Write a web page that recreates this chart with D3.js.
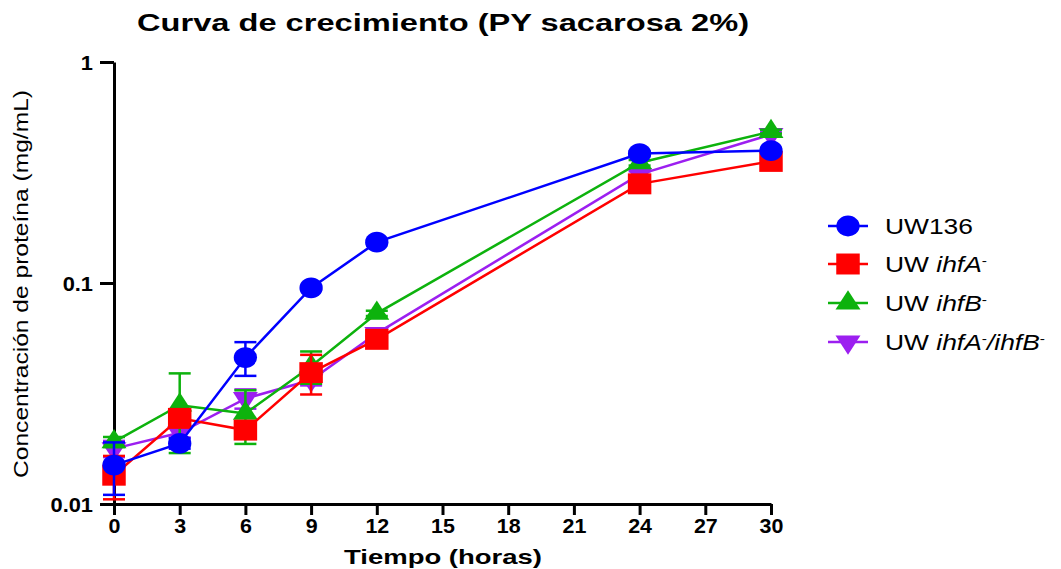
<!DOCTYPE html>
<html>
<head>
<meta charset="utf-8">
<script src="https://cdn.jsdelivr.net/npm/d3@7"></script>
<style>
  body { margin: 0; background: #fff; }
  text { font-family: "Liberation Sans", Arial, sans-serif; }
</style>
</head>
<body>
<div id="chart"></div>
<script>
// data
var times = [0, 3, 6, 9, 12, 24, 30];

var uw136     = [0.0150, 0.0188, 0.046, 0.095, 0.153, 0.385, 0.397];
var uw136Err  = [0.004, 0.001, 0.008, 0.002, 0.003, 0.01, 0.01];
var ihfA      = [0.0135, 0.0244, 0.0216, 0.0393, 0.0556, 0.281, 0.355];
var ihfAErr   = [0.003, 0.002, 0.001, 0.008, 0.002, 0.01, 0.01];
var ihfB      = [0.0191, 0.028, 0.0257, 0.042, 0.0729, 0.35, 0.484];
var ihfBErr   = [0.001, 0.011, 0.007, 0.007, 0.002, 0.01, 0.01];
var ihfAB     = [0.0178, 0.021, 0.030, 0.0364, 0.0592, 0.31, 0.47];
var ihfABErr  = [0.0015, 0.001, 0.003, 0.002, 0.002, 0.01, 0.01];

var xTicks = [0, 3, 6, 9, 12, 15, 18, 21, 24, 27, 30];
var yTicks = [0.01, 0.1, 1];

var width = 1061, height = 569;

var xScale = d3.scaleLinear().domain([0, 30]).range([114, 771]);
var yScale = d3.scaleLog().domain([0.01, 1]).range([504, 62]);

var svg = d3.select("#chart").append("svg")
    .attr("width", width)
    .attr("height", height);

// the source picture is a bit wider than normal Arial, so stretch text a little
function stretch(sel, f) {
    sel.each(function() {
        var len = this.getComputedTextLength();
        d3.select(this).attr("textLength", len * f).attr("lengthAdjust", "spacingAndGlyphs");
    });
}

// title
svg.append("text")
    .attr("x", 443).attr("y", 31)
    .attr("text-anchor", "middle")
    .attr("font-size", 23).attr("font-weight", "bold")
    .attr("textLength", 612).attr("lengthAdjust", "spacingAndGlyphs")
    .text("Curva de crecimiento (PY sacarosa 2%)");

// axes
var yAxis = svg.append("g")
    .attr("transform", "translate(114,0)")
    .call(d3.axisLeft(yScale).tickValues(yTicks).tickSize(14).tickSizeOuter(0)
        .tickFormat(function(d) { return d === 1 ? "1" : d3.format("")(d); }));

var xAxis = svg.append("g")
    .attr("transform", "translate(0,504)")
    .call(d3.axisBottom(xScale).tickValues(xTicks).tickSize(11).tickSizeOuter(0));

[xAxis, yAxis].forEach(function(ax) {
    ax.select(".domain").attr("stroke", "#000").attr("stroke-width", 3);
    ax.selectAll(".tick line").attr("stroke", "#000").attr("stroke-width", 3);
    ax.selectAll(".tick text")
        .attr("font-family", "Liberation Sans, Arial, sans-serif")
        .attr("font-size", 19.5).attr("font-weight", "bold").attr("fill", "#000");
});
yAxis.selectAll(".tick text").attr("x", -21).attr("dy", "0.36em");
xAxis.selectAll(".tick text").attr("y", 15);
stretch(yAxis.selectAll(".tick text"), 1.12);
stretch(xAxis.selectAll(".tick text"), 1.1);

// axis titles
svg.append("text")
    .attr("transform", "translate(28,284) rotate(-90)")
    .attr("text-anchor", "middle")
    .attr("font-size", 20)
    .attr("textLength", 388).attr("lengthAdjust", "spacingAndGlyphs")
    .text("Concentración de proteína (mg/mL)");

svg.append("text")
    .attr("x", 443).attr("y", 564)
    .attr("text-anchor", "middle")
    .attr("font-size", 21).attr("font-weight", "bold")
    .attr("textLength", 198).attr("lengthAdjust", "spacingAndGlyphs")
    .text("Tiempo (horas)");

// series (drawn bottom to top)
var series = [
    {name: "ab", values: ihfAB, err: ihfABErr, color: "#9c1ff0", shape: "down"},
    {name: "b", values: ihfB, err: ihfBErr, color: "#0db20d", shape: "up"},
    {name: "a", values: ihfA, err: ihfAErr, color: "#ff0000", shape: "square"},
    {name: "wt", values: uw136, err: uw136Err, color: "#0000ff", shape: "circle"}
];

function symbolPath(shape) {
    if (shape === "circle") return d3.symbol().type(d3.symbolCircle).size(340)();
    if (shape === "square") return d3.symbol().type(d3.symbolSquare).size(440)();
    return d3.symbol().type(d3.symbolTriangle).size(215)();
}
function symbolTransform(shape, x, y) {
    var t = "translate(" + x + "," + y + ") scale(1.12,1)";
    if (shape === "down") t += " rotate(180)";
    return t;
}

var line = d3.line()
    .x(function(d) { return xScale(d.t); })
    .y(function(d) { return yScale(d.v); });

series.forEach(function(s) {
    var pts = times.map(function(t, i) { return {t: t, v: s.values[i], e: s.err[i]}; });
    var g = svg.append("g");

    g.append("path")
        .datum(pts)
        .attr("d", line)
        .attr("fill", "none")
        .attr("stroke", s.color)
        .attr("stroke-width", 2.5);

    var eb = g.selectAll(".err").data(pts).enter().append("g");
    eb.append("line")
        .attr("x1", function(d) { return xScale(d.t); })
        .attr("x2", function(d) { return xScale(d.t); })
        .attr("y1", function(d) { return yScale(d.v + d.e); })
        .attr("y2", function(d) { return yScale(d.v - d.e); })
        .attr("stroke", s.color).attr("stroke-width", 2.5);
    [1, -1].forEach(function(sign) {
        eb.append("line")
            .attr("x1", function(d) { return xScale(d.t) - 11; })
            .attr("x2", function(d) { return xScale(d.t) + 11; })
            .attr("y1", function(d) { return yScale(d.v + sign * d.e); })
            .attr("y2", function(d) { return yScale(d.v + sign * d.e); })
            .attr("stroke", s.color).attr("stroke-width", 2.5);
    });

    g.selectAll(".dot").data(pts).enter().append("path")
        .attr("d", symbolPath(s.shape))
        .attr("transform", function(d) { return symbolTransform(s.shape, xScale(d.t), yScale(d.v)); })
        .attr("fill", s.color);
});

// legend
var legendItems = [
    {color: "#0000ff", shape: "circle", parts: [["UW136", false, false]]},
    {color: "#ff0000", shape: "square", parts: [["UW ", false, false], ["ihfA", true, false], ["-", false, true]]},
    {color: "#0db20d", shape: "up", parts: [["UW ", false, false], ["ihfB", true, false], ["-", false, true]]},
    {color: "#9c1ff0", shape: "down", parts: [["UW ", false, false], ["ihfA", true, false], ["-", false, true], ["/", true, false], ["ihfB", true, false], ["-", false, true]]}
];
var legendY = [226, 264, 303, 342];

legendItems.forEach(function(item, i) {
    var y = legendY[i];
    svg.append("line")
        .attr("x1", 828).attr("x2", 868).attr("y1", y).attr("y2", y)
        .attr("stroke", item.color).attr("stroke-width", 2.5);
    svg.append("path")
        .attr("d", symbolPath(item.shape))
        .attr("transform", symbolTransform(item.shape, 848, y))
        .attr("fill", item.color);
    var txt = svg.append("text")
        .attr("transform", "translate(885," + (y + 8) + ") scale(1.2,1)")
        .attr("font-size", 22).attr("fill", "#000");
    item.parts.forEach(function(p) {
        var ts = txt.append("tspan").text(p[0]);
        if (p[1]) ts.attr("font-style", "italic");
        if (p[2]) ts.attr("baseline-shift", "super").attr("font-size", 13);
    });
});
</script>
</body>
</html>
